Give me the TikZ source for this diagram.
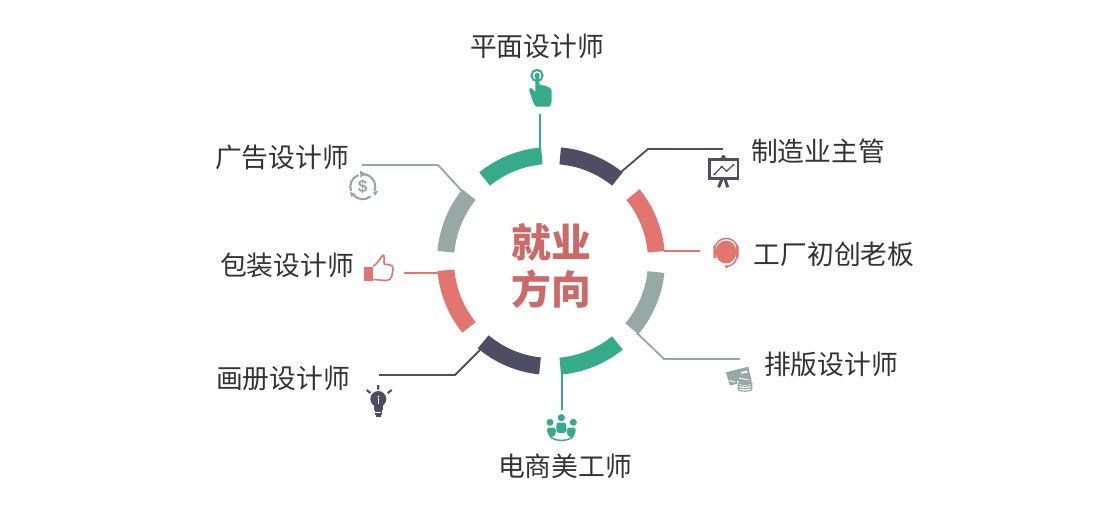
\documentclass[tikz,border=0pt]{standalone}
\usepackage{fontspec}
\newfontfamily\cjk{Noto Sans CJK SC}
\setsansfont{Liberation Sans}
\usetikzlibrary{calc}
\definecolor{cgreen}{HTML}{36AB8C}
\definecolor{cdark}{HTML}{4F4D63}
\definecolor{cred}{HTML}{E27570}
\definecolor{cgrey}{HTML}{97A9A6}
\definecolor{ctitle}{HTML}{CB6B69}
\definecolor{ctext}{HTML}{333333}
\newcommand{\ringseg}[3]{\fill[#1] ([shift={(551,-261)}]#2:114) arc[start angle=#2,end angle=#3,radius=114] -- ([shift={(551,-261)}]#3:97) arc[start angle=#3,end angle=#2,radius=97] -- cycle;}
\tikzset{
  lbl/.style={font=\cjk\fontsize{20.1pt}{22pt}\selectfont,text=ctext,inner sep=0pt},
  ttl/.style={font=\cjk\bfseries\fontsize{29.8pt}{32pt}\selectfont,text=ctitle,inner sep=0pt},
  conn/.style={line width=1.4pt},
}
\begin{document}
\begin{tikzpicture}[x=0.75pt,y=0.75pt]
\useasboundingbox (0,0) rectangle (1120,-508);
% ring
\ringseg{cgreen}{95}{129}
\ringseg{cdark}{51}{85}
\ringseg{cred}{5}{39}
\ringseg{cgrey}{-40}{-6}
\ringseg{cgreen}{-85}{-51}
\ringseg{cdark}{-130}{-96}
\ringseg{cred}{-175}{-141}
\ringseg{cgrey}{141}{175}
% labels
\node[lbl] (t1) at (537,-46) {平面设计师};
\node[lbl] (t2) at (818,-151) {制造业主管};
\node[lbl] (t3) at (834,-254) {工厂初创老板};
\node[lbl] (t4) at (831,-364) {排版设计师};
\node[lbl] (t5) at (565,-466) {电商美工师};
\node[lbl] (t6) at (283,-378) {画册设计师};
\node[lbl] (t7) at (287,-265) {包装设计师};
\node[lbl] (t8) at (282,-157) {广告设计师};
\node[ttl] (c1) at (551.5,-242) {就业};
\node[ttl] (c2) at (551.5,-289) {方向};
% connectors
\coordinate (a1) at (540,-151); \coordinate (b1) at (540,-114);
\draw[conn,cgreen] (a1) -- (b1);
\coordinate (a2) at (621,-172); \coordinate (m2) at (648,-149); \coordinate (b2) at (723,-149);
\draw[conn,cdark] (a2) -- (m2) -- (b2);
\coordinate (a3) at (664,-251); \coordinate (b3) at (700,-251);
\draw[conn,cred] (a3) -- (b3);
\coordinate (a4) at (637,-333); \coordinate (m4) at (664,-359); \coordinate (b4) at (740,-359);
\draw[conn,cgrey] (a4) -- (m4) -- (b4);
\coordinate (a5) at (561.7,-374); \coordinate (b5) at (561.7,-410);
\draw[conn,cgreen] (a5) -- (b5);
\coordinate (a6) at (480,-350); \coordinate (m6) at (455,-375); \coordinate (b6) at (379,-375);
\draw[conn,cdark] (a6) -- (m6) -- (b6);
\coordinate (a7) at (440,-273); \coordinate (b7) at (404,-273);
\draw[conn,cred] (a7) -- (b7);
\coordinate (a8) at (462,-191); \coordinate (m8) at (438,-165); \coordinate (b8) at (362,-165);
\draw[conn,cgrey] (a8) -- (m8) -- (b8);
% hand icon
\draw[cgreen,line width=1.5pt] (537,-75.5) circle[radius=5.6];
\fill[cgreen] (537,-75.5) circle[radius=2.7];
\fill[cgreen,rounded corners=0.8pt] (535.3,-77) -- (539.3,-77) -- (539.3,-85) -- (541,-84.6) -- (541.3,-85.5) -- (543.5,-85.2) -- (545.6,-85.5) -- (545.8,-86.5) -- (548.3,-87) -- (550.3,-88) -- (551.7,-90) -- (551.7,-102) -- (550,-106.7) -- (536,-106.7) -- (533.3,-103) -- (529,-89.5) -- (530,-87.8) -- (532,-88.3) -- (535.3,-92.5) -- cycle;
% chart board icon
\draw[cdark,line width=2.2pt] (709.3,-159.8) rectangle (738,-178.2);
\fill[cdark] (723.4,-157.2) circle[radius=2.2];
\draw[cdark,line width=2.2pt] (722,-179) -- (718.6,-187.3) (725,-179) -- (727.8,-187.3);
\draw[cdark,line width=0.9pt] (714.3,-174.3) -- (721.7,-166.7) -- (726.7,-171) -- (733.3,-165);
\fill[cdark] (721.7,-166.7) circle[radius=1.2] (726.7,-171) circle[radius=1.2] (733.3,-165) circle[radius=1.2] (714.3,-174.3) circle[radius=1.2];
% headset icon
\fill[cred] (726,-252) ellipse[x radius=10.3,y radius=11.5];
\draw[cred,line width=1.1pt] (714.5,-250) arc[start angle=180,end angle=0,radius=11.7];
\fill[cred,rounded corners=1pt] (713.4,-245) rectangle (716.2,-258.5);
\fill[cred,rounded corners=1pt] (735.8,-245) rectangle (738.6,-258.5);
\draw[cred,line width=1.1pt] (736.5,-258) .. controls (736,-263) and (731,-266) .. (726.5,-266.6);
\fill[cred] (726.5,-266.6) circle[radius=1.8];
% dollar icon
\draw[cgrey,line width=1.6pt] (362.7,-174.2) arc[start angle=90,end angle=-20,radius=12.5];
\draw[cgrey,line width=1.6pt] (370.7,-196.3) arc[start angle=-50,end angle=-140,radius=12.5];
\draw[cgrey,line width=1.6pt] (351,-191) arc[start angle=200,end angle=110,radius=12.5];
\fill[cgrey] (366,-174) -- (360,-170.5) -- (360.5,-177.5) -- cycle;
\fill[cgrey] (373,-192) -- (378.5,-190.5) -- (375,-196) -- cycle;
\fill[cgrey] (350,-192) -- (351,-197) -- (356,-194) -- cycle;
\node[inner sep=0pt,text=cgrey,font=\sffamily\bfseries\fontsize{13pt}{13pt}\selectfont] (d8) at (362.7,-186.7) {\$};
% thumb icon
\fill[cred] (364,-266.5) rectangle (373.3,-280.7);
\draw[cred,line width=1.2pt,rounded corners=1.5pt,line join=round] (373.3,-266.5) -- (379,-261) -- (382,-255) -- (384.5,-255.5) -- (383.8,-264.5) -- (390.5,-264.5) -- (393.5,-267) -- (391.5,-278) -- (388,-280.7) -- (373.3,-279.5);
% bulb icon
\fill[cdark] (378.3,-399) circle[radius=8];
\fill[cdark] (374,-404) rectangle (382.6,-409.5);
\fill[white] (377.6,-398) rectangle (379,-403.5);
\fill[white] (378.3,-396.5) circle[radius=1];
\fill[cdark] (374.5,-410.3) rectangle (382,-415);
\fill[white] (375.3,-411.7) rectangle (381.2,-412.5);
\fill[cdark] (376,-415) rectangle (380.5,-417.3);
\draw[cdark,line width=1.6pt] (378.3,-385) -- (378.3,-389.5) (366.7,-390) -- (370.3,-393) (391.7,-390) -- (387.7,-393);
% people icon
\fill[cgreen] (550,-422.3) circle[radius=3.5] (561.3,-417.7) circle[radius=3.6] (573.3,-422.3) circle[radius=3.5];
\fill[cgreen,rounded corners=2pt] (556.3,-422.5) rectangle (566.3,-433);
\fill[cgreen,rounded corners=2pt] (546.8,-427.5) -- (555.6,-427.5) -- (556,-434) -- (552,-438) -- (547.5,-434) -- cycle;
\fill[cgreen,rounded corners=2pt] (567,-427.5) -- (576,-427.5) -- (575.3,-434) -- (571,-438) -- (566.6,-434) -- cycle;
\draw[cgreen,line width=1.1pt] (549.5,-435.5) .. controls (553,-442) and (570,-442) .. (573.5,-435.5);
% card and coins icon
\fill[cgrey] (726,-372.3) -- (748.3,-366.7) -- (751.7,-380.7) -- (729.8,-385.5) -- cycle;
\fill[white] (741,-372) -- (747,-370.5) -- (747.6,-372.4) -- (741.6,-373.9) -- cycle;
\draw[white,line width=0.7pt] (729,-380.6) -- (735,-382) (739,-378) -- (750,-380.4);
\fill[white] (736.5,-381) rectangle (753,-393);
\fill[cgrey] (745,-382.5) ellipse[x radius=6.8,y radius=2.5];
\draw[cgrey,line width=0.9pt] (738.2,-384) arc[start angle=180,end angle=360,x radius=6.8,y radius=2.2]
  (738.2,-386.5) arc[start angle=180,end angle=360,x radius=6.8,y radius=2.2]
  (738.2,-389) arc[start angle=180,end angle=360,x radius=6.8,y radius=2.2]
  (738.2,-382.5) -- (738.2,-389) (751.8,-382.5) -- (751.8,-389);
\end{tikzpicture}
\end{document}
